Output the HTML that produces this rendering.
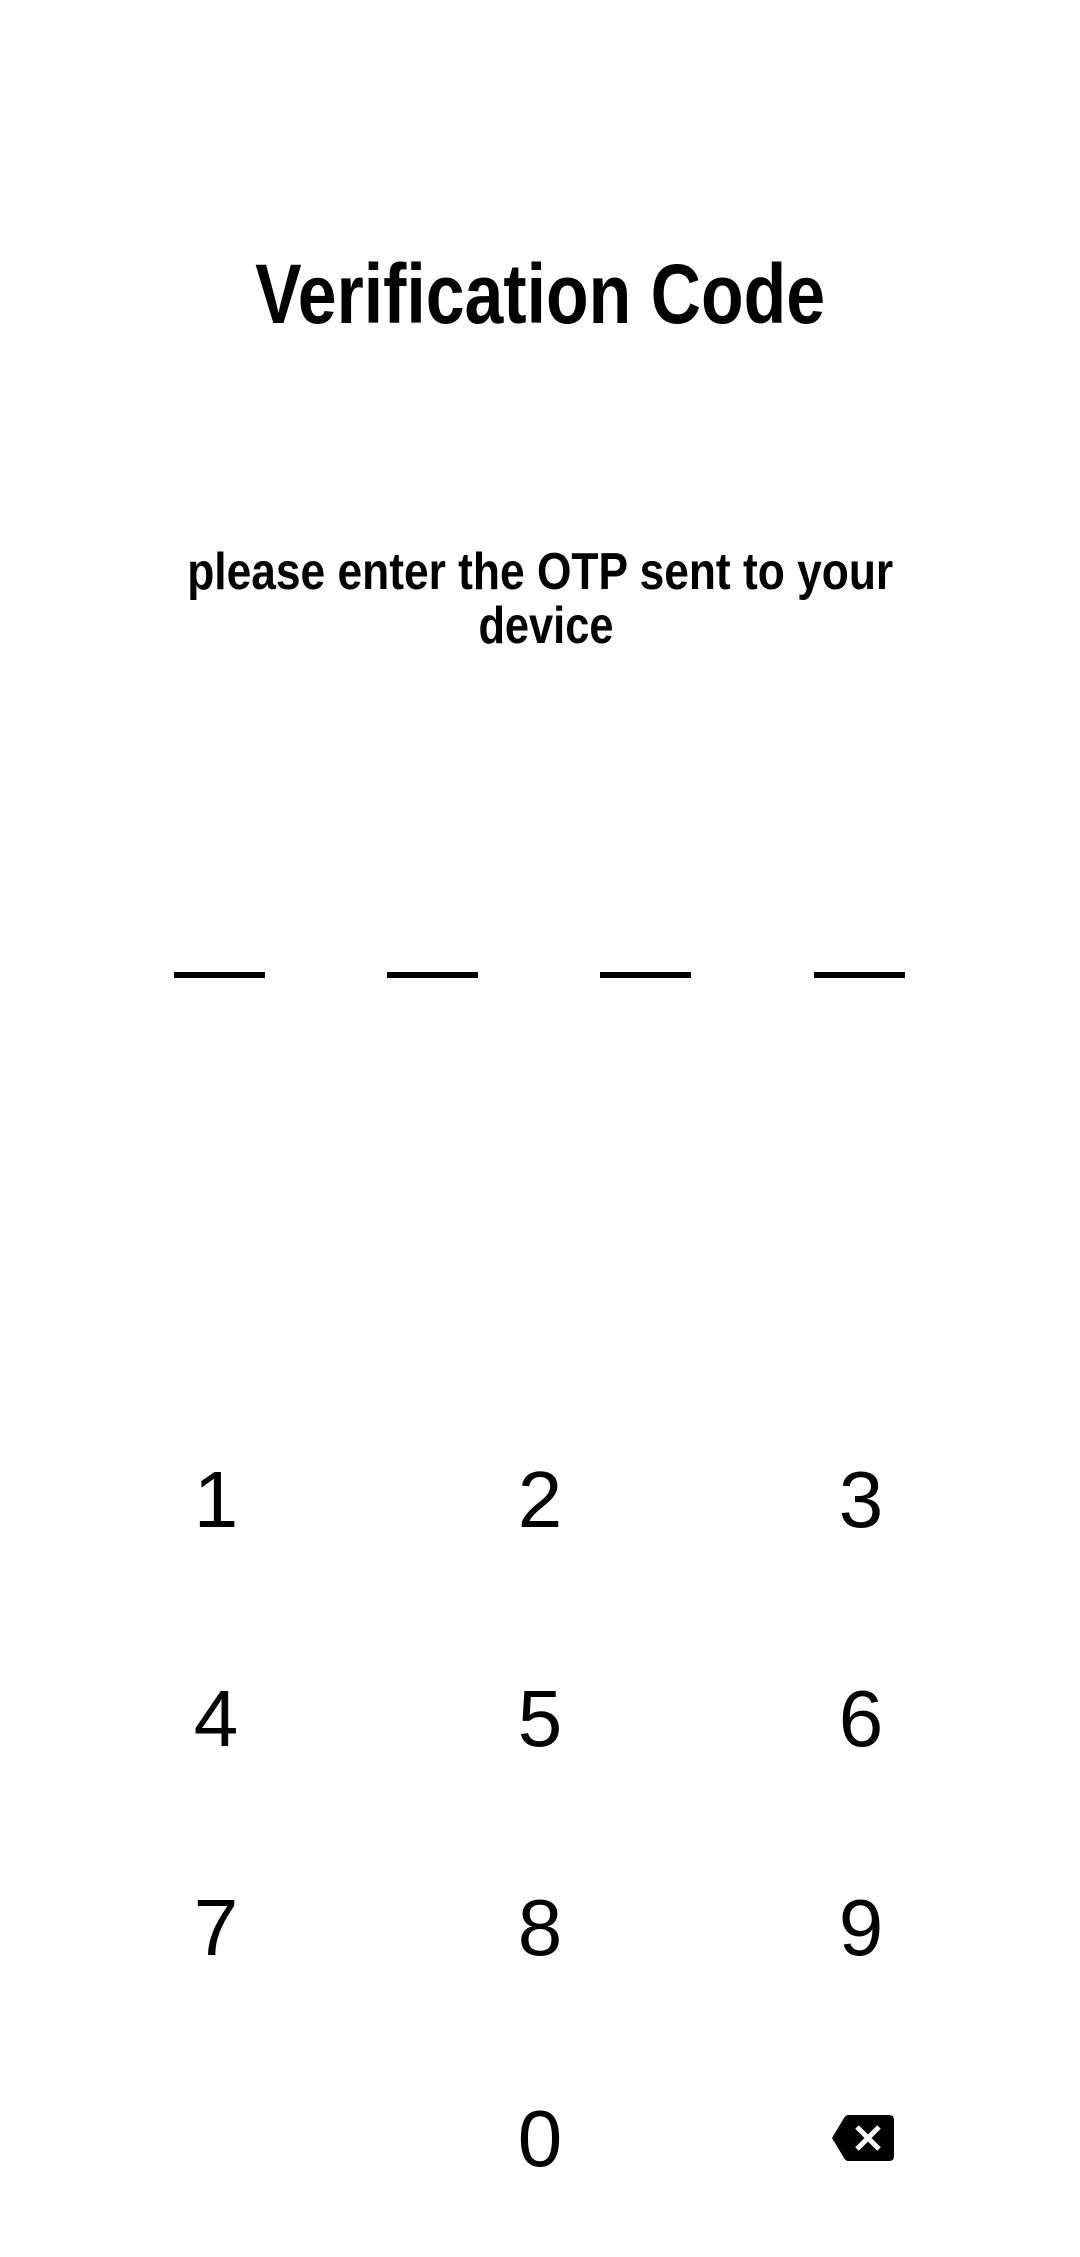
<!DOCTYPE html>
<html><head><meta charset="utf-8">
<style>
html,body{margin:0;padding:0;background:#fff;}
body{width:1080px;height:2257px;position:relative;overflow:hidden;font-family:"Liberation Sans",sans-serif;color:#000;}
.t{position:absolute;white-space:nowrap;line-height:1;transform-origin:center center;}
.dash{position:absolute;height:6px;background:#000;top:972px;width:91px;}
.key{position:absolute;font-size:80px;line-height:1;width:200px;text-align:center;cursor:pointer;}
</style></head>
<body>
<div class="t fit" data-w="570" style="font-weight:bold;font-size:84px;top:252px;left:540px;">Verification Code</div>
<div class="t fit" data-w="706" style="font-weight:bold;font-size:52px;top:546px;left:540px;">please enter the OTP sent to your</div>
<div class="t fit" data-w="135" style="font-weight:bold;font-size:52px;top:600px;left:546px;">device</div>

<div class="dash" style="left:174px"></div>
<div class="dash" style="left:387px"></div>
<div class="dash" style="left:600px"></div>
<div class="dash" style="left:814px"></div>

<div class="key" style="left:116px;top:1460px">1</div>
<div class="key" style="left:440px;top:1460px">2</div>
<div class="key" style="left:761px;top:1460px">3</div>
<div class="key" style="left:116px;top:1679px">4</div>
<div class="key" style="left:440px;top:1679px">5</div>
<div class="key" style="left:761px;top:1679px">6</div>
<div class="key" style="left:116px;top:1888px">7</div>
<div class="key" style="left:440px;top:1888px">8</div>
<div class="key" style="left:761px;top:1888px">9</div>
<div class="key" style="left:440px;top:2099px">0</div>

<svg style="position:absolute;left:832px;top:2115px;cursor:pointer" width="62" height="46" viewBox="0 0 62 46">
<path d="M16 0 H57 Q62 0 62 5 V41 Q62 46 57 46 H16 Q14 46 12 43 L0 23 L12 3 Q14 0 16 0 Z" fill="#000"/>
<path d="M25 12 L47 34 M47 12 L25 34" stroke="#fff" stroke-width="5" stroke-linecap="butt"/>
</svg>

<script>
document.querySelectorAll('.fit').forEach(function(el){
  var w=el.getBoundingClientRect().width;
  var target=parseFloat(el.getAttribute('data-w'));
  var s=target/w;
  el.style.marginLeft=(-w/2)+'px';
  el.style.transform='scaleX('+s+')';
});
</script>
</body></html>
